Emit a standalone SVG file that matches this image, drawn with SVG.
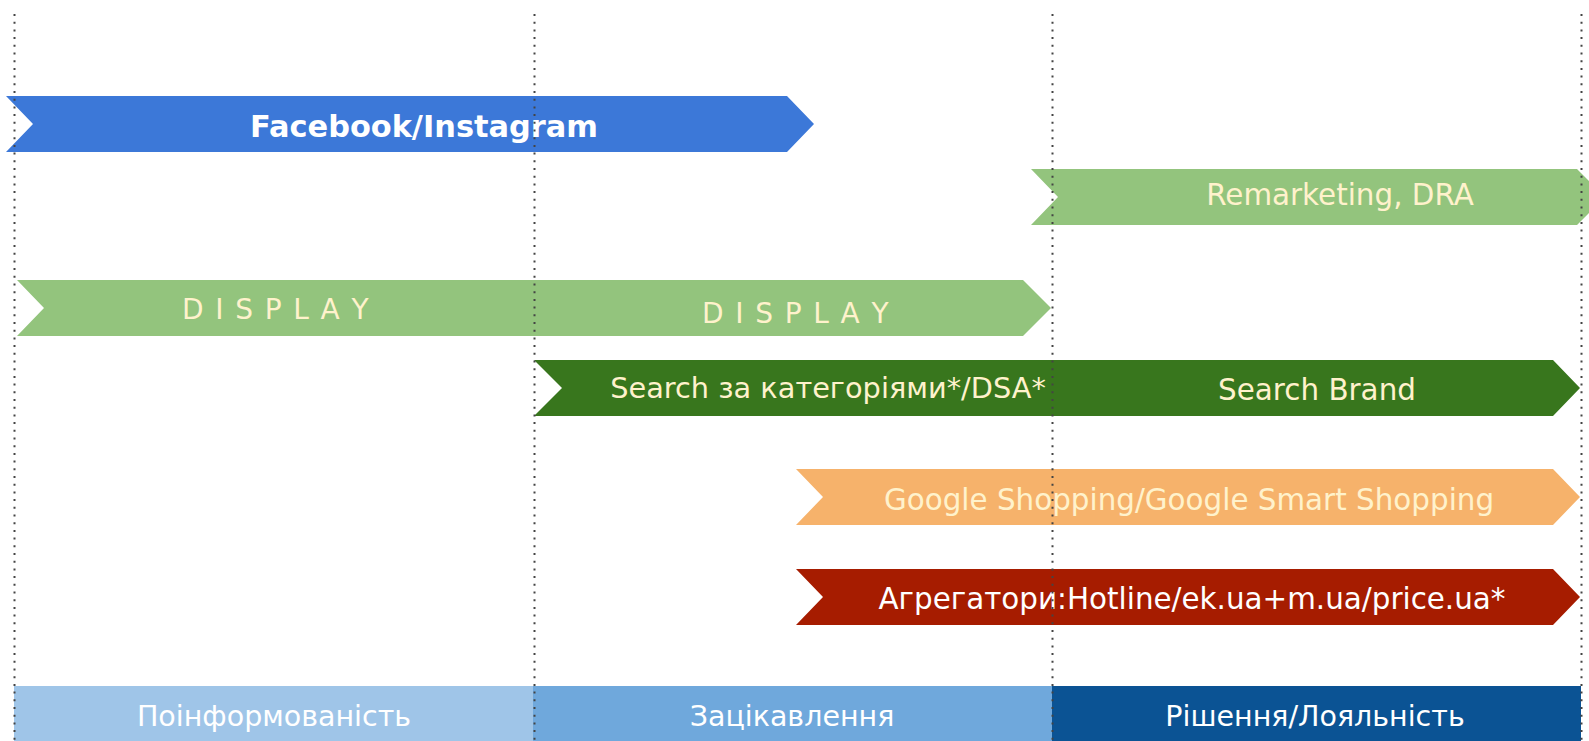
<svg xmlns="http://www.w3.org/2000/svg" width="1589" height="741" viewBox="0 0 1589 741">
<style>
.t{font-family:"DejaVu Sans",Verdana,sans-serif;text-anchor:middle}
.y{fill:#FFF2CC}
.w{fill:#FFFFFF}
.b{font-size:28.5px}
.guide{stroke:#444444;stroke-width:2;stroke-dasharray:2 5.7;fill:none}
</style>
<rect width="1589" height="741" fill="#FFFFFF"/>
<g id="stage-bars">
<g id="stage-awareness"><rect x="14" y="686" width="519" height="55" fill="#9FC5E8"/><text class="t w b" x="274" y="726">Поінформованість</text></g>
<g id="stage-interest"><rect x="533" y="686" width="519" height="55" fill="#6FA8DC"/><text class="t w b" x="792" y="726">Зацікавлення</text></g>
<g id="stage-decision"><rect x="1052" y="686" width="529" height="55" fill="#0B5394"/><text class="t w b" x="1315" y="726">Рішення/Лояльність</text></g>
</g>
<g id="facebook"><polygon points="6,96 787,96 814,124 787,152 6,152 33,124" fill="#3C78D8"/><text class="t w" x="424" y="137" font-size="30.4" font-weight="bold">Facebook/Instagram</text></g>
<g id="remarketing"><polygon points="1031,169 1577,169 1605,197 1577,225 1031,225 1058,197" fill="#93C47D"/><text class="t y" x="1340" y="205" font-size="29.4">Remarketing, DRA</text></g>
<g id="display"><polygon points="17,280 1023,280 1051,308 1023,336 17,336 44,308" fill="#93C47D"/><text class="t y" x="276" y="319" font-size="28" letter-spacing="1.4">D I S P L A Y</text><text class="t y" x="796" y="323" font-size="28" letter-spacing="1.4">D I S P L A Y</text></g>
<g id="search"><polygon points="534,360 1553,360 1580,388 1553,416 534,416 562,388" fill="#38761D"/><text class="t y" x="828" y="398" font-size="28.8">Search за категоріями*/DSA*</text><text class="t y" x="1317" y="400" font-size="29.4">Search Brand</text></g>
<g id="shopping"><polygon points="796,469 1553,469 1580,497 1553,525 796,525 823,497" fill="#F6B26B"/><text class="t y" x="1189" y="510" font-size="29.4">Google Shopping/Google Smart Shopping</text></g>
<g id="aggregators"><polygon points="796,569 1553,569 1580,597 1553,625 796,625 823,597" fill="#A61C00"/><text class="t w" x="1192" y="609" font-size="29.4">Агрегатори:Hotline/ek.ua+m.ua/price.ua*</text></g>
<g id="connectors">
<line class="guide" x1="14.5" y1="14" x2="14.5" y2="741"/>
<line class="guide" x1="534.5" y1="14" x2="534.5" y2="741"/>
<line class="guide" x1="1052.5" y1="14" x2="1052.5" y2="741"/>
<line class="guide" x1="1581.5" y1="14" x2="1581.5" y2="741"/>
</g>
</svg>
